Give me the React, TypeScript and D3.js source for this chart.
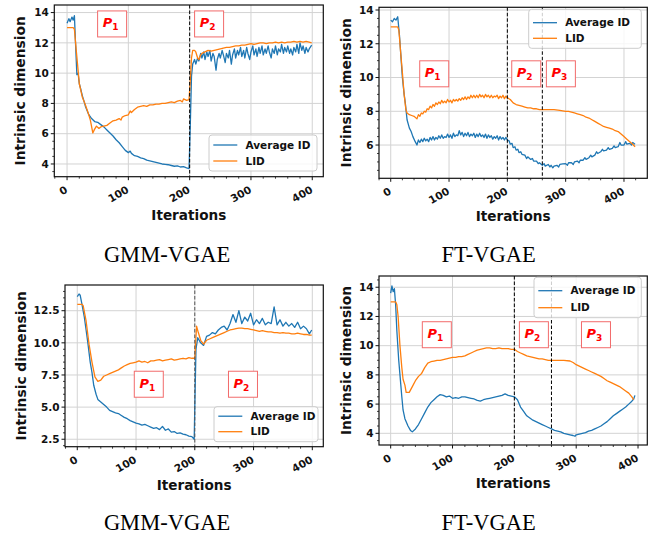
import React, { useEffect, useRef } from "react"
import * as d3 from "d3"

type Pt = [number, number]

// [iteration, value]
const gmmTopAvg: Pt[] = [
  [0, 13.3], [3, 13.6], [5, 13.4], [8, 13.7], [10, 13.5], [12, 13.8], [14, 11.8], [16, 9.9], [18, 10.0], [20, 9.3], [22, 9.0],
  [25, 8.5], [28, 8.1], [30, 7.8], [35, 7.3], [40, 7.0], [45, 6.8], [50, 6.75], [55, 6.6], [60, 6.45],
  [65, 6.25], [70, 6.05], [75, 5.85], [80, 5.6], [85, 5.4], [90, 5.15], [95, 4.9], [100, 4.75],
  [103, 4.85], [105, 4.7], [110, 4.55], [115, 4.5], [120, 4.4], [125, 4.35], [130, 4.25], [135, 4.2],
  [140, 4.15], [145, 4.1], [150, 4.05], [155, 4.0], [160, 3.98], [165, 3.95], [170, 3.9], [175, 3.85],
  [180, 3.88], [185, 3.8], [190, 3.82], [195, 3.75], [199, 3.7], [201, 6.5], [203, 9.8], [205, 10.6],
  [208, 10.9], [210, 10.6], [213, 11.0], [215, 10.8], [218, 11.3], [220, 11.0], [223, 11.4], [225, 10.9],
  [228, 11.4], [230, 11.1], [233, 11.5], [235, 10.8], [238, 11.3], [240, 11.1], [243, 10.2], [245, 10.9],
  [248, 11.3], [250, 11.0], [253, 11.5], [255, 11.2], [258, 10.7], [260, 11.3], [263, 11.0], [265, 11.5],
  [268, 10.6], [270, 11.2], [273, 11.6], [275, 11.0], [278, 11.5], [280, 11.2], [283, 11.7], [285, 11.1],
  [288, 11.5], [290, 11.0], [293, 11.7], [295, 11.3], [298, 10.9], [300, 11.4], [303, 11.8], [305, 11.2],
  [308, 11.6], [310, 11.1], [313, 11.7], [315, 11.3], [318, 11.8], [320, 11.2], [323, 11.6], [325, 11.3],
  [328, 11.8], [330, 11.4], [333, 11.0], [335, 11.6], [338, 11.3], [340, 11.8], [343, 11.2], [345, 11.6],
  [348, 11.4], [350, 11.9], [353, 11.3], [355, 11.7], [358, 11.4], [360, 11.8], [363, 11.3], [365, 11.6],
  [368, 11.2], [370, 11.7], [373, 11.4], [375, 11.9], [378, 11.3], [380, 12.0], [383, 11.5], [385, 11.8],
  [388, 11.3], [390, 11.7], [393, 11.4], [395, 11.6], [399, 11.85],
]
const gmmTopLid: Pt[] = [
  [0, 13.0], [10, 13.0], [12, 12.9], [15, 11.5], [18, 10.2], [20, 9.3], [25, 8.4], [30, 7.9], [35, 7.3],
  [38, 6.9], [42, 6.05], [45, 6.3], [48, 6.5], [52, 6.35], [55, 6.45], [60, 6.5], [65, 6.55], [70, 6.7],
  [75, 6.85], [80, 6.9], [85, 7.0], [88, 6.9], [90, 7.1], [95, 7.2], [100, 7.25], [103, 7.5], [105, 7.4],
  [110, 7.6], [115, 7.75], [120, 7.8], [125, 7.85], [130, 7.8], [135, 7.9], [140, 7.9], [145, 7.95],
  [150, 7.95], [155, 8.0], [160, 8.0], [165, 8.05], [170, 8.1], [175, 8.05], [180, 8.15], [185, 8.2],
  [188, 8.1], [190, 8.3], [195, 8.2], [199, 8.25], [201, 9.5], [203, 11.0], [205, 11.5], [208, 11.5],
  [210, 11.4], [213, 11.0], [215, 10.9], [218, 11.2], [220, 11.3], [225, 11.4], [230, 11.5], [235, 11.45],
  [240, 11.5], [245, 11.55], [250, 11.6], [255, 11.65], [260, 11.7], [265, 11.7], [270, 11.75], [275, 11.8],
  [280, 11.8], [285, 11.85], [290, 11.85], [295, 11.9], [300, 11.95], [305, 11.9], [310, 11.95], [315, 12.0],
  [320, 12.0], [325, 11.95], [330, 12.0], [335, 12.0], [340, 12.05], [345, 12.0], [350, 12.05], [355, 12.0],
  [360, 12.05], [365, 12.05], [370, 12.1], [375, 12.05], [380, 12.1], [385, 12.05], [390, 12.1], [395, 12.05],
  [399, 12.0],
]

const ftTopAvg: Pt[] = [
  [0, 13.4], [3, 13.3], [6, 13.5], [9, 13.4], [12, 13.6], [15, 12.5], [18, 11.0], [20, 10.0], [23, 9.0],
  [25, 8.5], [28, 7.5], [32, 7.0], [35, 6.8], [38, 6.5], [42, 6.2], [45, 6.0], [47.5, 6.3], [50, 6.15],
  [52.5, 6.35], [55, 6.2], [57.5, 6.4], [60, 6.25], [62.5, 6.35], [65, 6.2], [67.5, 6.45], [70, 6.3],
  [72.5, 6.5], [75, 6.3], [77.5, 6.45], [80, 6.35], [82.5, 6.55], [85, 6.4], [87.5, 6.6], [90, 6.4],
  [92.5, 6.5], [95, 6.45], [97.5, 6.65], [100, 6.45], [102.5, 6.6], [105, 6.4], [107.5, 6.7], [110, 6.5],
  [112.5, 6.6], [115, 6.55], [117.5, 6.85], [120, 6.6], [122.5, 6.75], [125, 6.5], [127.5, 6.7], [130, 6.55],
  [132.5, 6.75], [135, 6.5], [137.5, 6.65], [140, 6.55], [142.5, 6.7], [145, 6.45], [147.5, 6.65], [150, 6.5],
  [152.5, 6.7], [155, 6.5], [157.5, 6.6], [160, 6.45], [162.5, 6.65], [165, 6.4], [167.5, 6.6], [170, 6.45],
  [172.5, 6.55], [175, 6.35], [177.5, 6.5], [180, 6.4], [182.5, 6.55], [185, 6.3], [187.5, 6.5], [190, 6.35],
  [192.5, 6.45], [195, 6.3], [197.5, 6.45], [200, 6.3], [203, 6.25], [205, 6.05], [208, 6.1], [210, 5.85],
  [213, 5.9], [215, 5.7], [218, 5.75], [220, 5.55], [223, 5.6], [225, 5.45], [230, 5.4], [233, 5.2],
  [235, 5.3], [240, 5.15], [243, 5.2], [245, 5.05], [250, 5.05], [253, 4.9], [255, 4.95], [260, 4.8],
  [263, 4.9], [265, 4.75], [270, 4.85], [273, 4.7], [275, 4.8], [278, 4.65], [280, 4.75], [285, 4.8],
  [288, 4.7], [290, 4.85], [295, 4.88], [300, 4.9], [303, 4.8], [305, 4.95], [310, 4.95], [313, 4.85],
  [315, 5.0], [320, 5.05], [323, 4.95], [325, 5.1], [330, 5.1], [333, 5.25], [335, 5.15], [340, 5.25],
  [343, 5.4], [345, 5.3], [350, 5.4], [353, 5.6], [355, 5.5], [360, 5.6], [363, 5.75], [365, 5.65],
  [370, 5.7], [373, 5.85], [375, 5.75], [380, 5.8], [383, 5.95], [385, 5.85], [390, 5.9], [393, 6.15],
  [395, 6.0], [400, 6.0], [403, 6.2], [405, 6.05], [410, 6.1], [413, 6.0], [415, 6.15], [419, 6.05],
]
const ftTopLid: Pt[] = [
  [0, 13.0], [12, 13.0], [14, 12.8], [17, 11.5], [20, 10.3], [23, 9.0], [26, 8.1], [28, 7.9], [32, 7.8],
  [36, 7.75], [40, 7.7], [45, 7.55], [47.5, 7.8], [50, 7.7], [52.5, 7.9], [55, 7.85], [57.5, 8.0], [60, 7.95],
  [62.5, 8.15], [65, 8.1], [67.5, 8.3], [70, 8.2], [72.5, 8.4], [75, 8.3], [77.5, 8.5], [80, 8.4],
  [82.5, 8.55], [85, 8.45], [87.5, 8.65], [90, 8.5], [92.5, 8.6], [95, 8.5], [97.5, 8.7], [100, 8.55],
  [102.5, 8.65], [105, 8.5], [107.5, 8.7], [110, 8.6], [112.5, 8.7], [115, 8.6], [117.5, 8.75], [120, 8.65],
  [122.5, 8.8], [125, 8.7], [127.5, 8.85], [130, 8.7], [132.5, 8.85], [135, 8.75], [137.5, 8.95], [140, 8.8],
  [142.5, 8.95], [145, 8.8], [147.5, 8.95], [150, 8.8], [152.5, 9.0], [155, 8.85], [157.5, 8.95], [160, 8.8],
  [162.5, 9.0], [165, 8.85], [167.5, 8.95], [170, 8.8], [172.5, 8.95], [175, 8.8], [177.5, 8.9], [180, 8.85],
  [182.5, 8.95], [185, 8.75], [187.5, 8.9], [190, 8.8], [192.5, 8.95], [195, 8.75], [197.5, 8.9], [200, 8.8],
  [205, 8.7], [210, 8.5], [215, 8.4], [220, 8.35], [225, 8.3], [230, 8.25], [235, 8.2], [240, 8.2],
  [245, 8.15], [250, 8.15], [255, 8.1], [260, 8.1], [270, 8.1], [280, 8.1], [290, 8.05], [300, 8.0],
  [305, 8.0], [310, 7.95], [315, 7.9], [320, 7.85], [325, 7.8], [330, 7.75], [335, 7.65], [340, 7.6],
  [345, 7.5], [350, 7.4], [355, 7.3], [360, 7.2], [365, 7.1], [370, 7.05], [375, 7.0], [380, 6.95],
  [385, 6.85], [390, 6.8], [395, 6.65], [400, 6.5], [405, 6.35], [410, 6.2], [415, 6.05], [419, 5.9],
]

const gmmBotAvg: Pt[] = [
  [0, 13.6], [3, 13.8], [5, 13.7], [8, 13.0], [12, 12.0], [15, 11.0], [18, 10.0], [22, 8.5], [25, 7.7],
  [28, 6.7], [32, 6.0], [35, 5.6], [40, 5.4], [45, 5.2], [50, 5.0], [55, 4.75], [60, 4.65], [65, 4.55],
  [70, 4.5], [75, 4.35], [80, 4.2], [85, 4.1], [90, 3.95], [95, 3.85], [100, 3.75], [105, 3.7], [110, 3.6],
  [115, 3.65], [120, 3.55], [125, 3.45], [130, 3.35], [135, 3.4], [140, 3.25], [145, 3.5], [150, 3.2],
  [155, 3.3], [160, 3.05], [165, 3.1], [170, 2.95], [175, 3.0], [180, 2.9], [185, 2.85], [190, 2.75],
  [195, 2.7], [199, 2.5], [200, 5.0], [202, 9.5], [205, 10.4], [210, 10.0], [215, 9.8], [220, 10.5],
  [225, 10.6], [230, 10.8], [235, 10.7], [240, 11.0], [245, 11.2], [250, 11.3], [255, 11.0], [260, 11.5],
  [265, 12.2], [270, 11.6], [275, 12.5], [280, 11.5], [285, 12.0], [290, 11.7], [295, 12.3], [300, 11.4],
  [305, 11.8], [310, 11.5], [315, 11.9], [320, 11.4], [325, 11.6], [330, 11.5], [335, 12.8], [340, 11.4],
  [345, 11.8], [350, 11.3], [355, 11.6], [360, 11.3], [365, 11.5], [370, 11.2], [375, 11.6], [380, 11.1],
  [385, 11.3], [390, 11.1], [395, 10.7], [399, 11.0],
]
const gmmBotLid: Pt[] = [
  [0, 13.0], [8, 13.0], [10, 12.9], [15, 11.7], [20, 9.9], [25, 8.5], [30, 7.35], [35, 7.0], [40, 7.1],
  [45, 7.4], [50, 7.5], [55, 7.6], [60, 7.7], [65, 7.8], [70, 7.9], [75, 8.05], [80, 8.2], [85, 8.3],
  [90, 8.4], [95, 8.45], [100, 8.5], [105, 8.6], [110, 8.5], [115, 8.55], [120, 8.45], [125, 8.6],
  [130, 8.6], [135, 8.65], [140, 8.7], [145, 8.6], [150, 8.65], [155, 8.7], [160, 8.75], [165, 8.65],
  [170, 8.7], [175, 8.75], [180, 8.8], [185, 8.75], [190, 8.85], [195, 8.8], [200, 8.8], [203, 11.3],
  [206, 10.8], [210, 10.2], [215, 9.9], [220, 10.2], [225, 10.3], [230, 10.4], [235, 10.5], [240, 10.6],
  [245, 10.7], [250, 10.8], [255, 10.9], [260, 11.0], [265, 11.05], [270, 11.1], [275, 11.15], [280, 11.15],
  [285, 11.1], [290, 11.1], [295, 11.05], [300, 11.0], [305, 10.95], [310, 10.9], [315, 10.95], [320, 10.9],
  [325, 10.85], [330, 10.85], [335, 10.8], [340, 10.8], [345, 10.75], [350, 10.8], [355, 10.75], [360, 10.75],
  [365, 10.7], [370, 10.7], [375, 10.75], [380, 10.7], [385, 10.65], [390, 10.65], [395, 10.6], [399, 10.6],
]

const ftBotAvg: Pt[] = [
  [0, 13.6], [2, 14.1], [4, 13.7], [6, 13.9], [8, 12.8], [10, 11.0], [13, 9.0], [15, 8.0], [18, 6.5],
  [20, 5.6], [23, 5.0], [28, 4.5], [32, 4.2], [35, 4.1], [40, 4.3], [45, 4.6], [50, 5.0], [55, 5.4],
  [60, 5.8], [65, 6.1], [70, 6.3], [75, 6.5], [80, 6.65], [85, 6.6], [90, 6.5], [95, 6.55], [100, 6.4],
  [105, 6.45], [110, 6.4], [115, 6.5], [120, 6.5], [125, 6.45], [130, 6.4], [135, 6.35], [140, 6.25],
  [145, 6.2], [150, 6.3], [155, 6.35], [160, 6.4], [165, 6.45], [170, 6.5], [175, 6.55], [180, 6.6],
  [185, 6.7], [190, 6.6], [195, 6.55], [200, 6.5], [205, 6.3], [210, 5.8], [215, 5.5], [220, 5.2],
  [225, 5.05], [230, 4.9], [235, 4.8], [240, 4.7], [245, 4.6], [250, 4.5], [255, 4.4], [260, 4.3],
  [265, 4.2], [270, 4.15], [275, 4.1], [280, 4.0], [285, 3.95], [290, 3.9], [295, 3.85], [298, 3.8],
  [300, 3.9], [305, 3.95], [310, 4.0], [315, 4.05], [320, 4.15], [325, 4.2], [330, 4.3], [335, 4.4],
  [340, 4.5], [345, 4.65], [350, 4.8], [355, 5.0], [360, 5.2], [365, 5.35], [370, 5.5], [375, 5.65],
  [380, 5.8], [385, 6.0], [390, 6.2], [393, 6.35], [395, 6.6],
]
const ftBotLid: Pt[] = [
  [0, 13.0], [8, 13.0], [10, 12.8], [12, 12.0], [15, 10.0], [18, 8.5], [20, 7.7], [23, 7.3], [25, 6.8],
  [30, 6.8], [35, 7.2], [40, 7.6], [45, 7.9], [50, 8.1], [55, 8.5], [60, 8.8], [65, 8.9], [70, 8.95],
  [75, 9.0], [80, 9.0], [85, 9.05], [90, 9.1], [95, 9.15], [100, 9.2], [105, 9.2], [110, 9.25], [115, 9.25],
  [120, 9.3], [125, 9.4], [130, 9.5], [135, 9.6], [140, 9.7], [145, 9.75], [150, 9.8], [155, 9.85],
  [160, 9.85], [165, 9.8], [170, 9.8], [175, 9.85], [180, 9.8], [185, 9.8], [190, 9.8], [195, 9.75],
  [200, 9.75], [205, 9.6], [210, 9.5], [215, 9.4], [220, 9.3], [225, 9.25], [230, 9.2], [235, 9.15],
  [240, 9.1], [245, 9.1], [250, 9.05], [255, 9.0], [260, 9.0], [270, 9.0], [280, 9.0], [290, 8.95],
  [295, 8.85], [300, 8.7], [305, 8.6], [310, 8.5], [315, 8.4], [320, 8.3], [325, 8.2], [330, 8.1],
  [335, 8.0], [340, 7.9], [345, 7.75], [350, 7.6], [355, 7.5], [360, 7.4], [365, 7.3], [370, 7.2],
  [375, 7.05], [380, 6.9], [385, 6.75], [390, 6.5], [393, 6.3],
]

const seriesNames = ["Average ID", "LID"]
const xTickValues = [0, 100, 200, 300, 400]
const captions = ["GMM-VGAE", "FT-VGAE", "GMM-VGAE", "FT-VGAE"]

const BLUE = "#1f77b4"
const ORANGE = "#ff7f0e"
const FONT = "DejaVu Sans, sans-serif"

const panels = [
  {
    box: { l: 54.3, r: 323.3, t: 5, b: 176.7 }, xDom: [-20.8, 418], yDom: [3.16, 14.5],
    yTicks: [4, 6, 8, 10, 12, 14], yFmt: d3.format("d"), avg: gmmTopAvg, lid: gmmTopLid,
    phases: [200], tags: [[73.5, 13.25, "1"], [231.7, 13.25, "2"]],
    legend: { x: 209, y: 135, w: 108, h: 36, r1: 10, r2: 26 }, yLab: 29.5,
    cap: { x: 167, y: 261.7 }, dash: "#000",
  },
  {
    box: { l: 379, r: 647.3, t: 7.3, b: 178.3 }, xDom: [-20.1, 440], yDom: [4.03, 14.16],
    yTicks: [6, 8, 10, 12, 14], yFmt: d3.format("d"), avg: ftTopAvg, lid: ftTopLid,
    phases: [200, 260], tags: [[74.6, 10.22, "1"], [232.4, 10.22, "2"], [291.8, 10.22, "3"]],
    legend: { x: 528.7, y: 9.3, w: 112.6, h: 39, r1: 13.4, r2: 29 }, yLab: 28.3,
    cap: { x: 488.6, y: 261.7 }, dash: "#000",
  },
  {
    box: { l: 65, r: 323.3, t: 285, b: 446.7 }, xDom: [-20.9, 418.7], yDom: [1.92, 14.5],
    yTicks: [2.5, 5, 7.5, 10, 12.5], yFmt: d3.format(".1f"), avg: gmmBotAvg, lid: gmmBotLid,
    phases: [200], tags: [[121.7, 6.78, "1"], [282, 6.78, "2"]],
    legend: { x: 214, y: 406.7, w: 104, h: 35, r1: 9.5, r2: 25 }, yLab: 39,
    cap: { x: 167, y: 529.5 }, dash: "#555",
  },
  {
    box: { l: 379, r: 647.3, t: 276, b: 445 }, xDom: [-18.9, 415], yDom: [3.2, 14.77],
    yTicks: [4, 6, 8, 10, 12, 14], yFmt: d3.format("d"), avg: ftBotAvg, lid: ftBotLid,
    phases: [200, 260], tags: [[74.6, 10.75, "1"], [231.6, 10.75, "2"], [332, 10.75, "3"]],
    legend: { x: 534, y: 277.3, w: 107.3, h: 40.4, r1: 13.4, r2: 30.4 }, yLab: 28.3,
    cap: { x: 488.6, y: 529.5 }, dash: "#000",
  },
]

const App = () => {
  const ref = useRef<SVGSVGElement>(null)

  useEffect(() => {
    const svg = d3.select(ref.current)
    svg.selectAll("*").remove()

    panels.forEach((p, idx) => {
      const { l, r, t, b } = p.box
      const x = d3.scaleLinear().domain(p.xDom).range([l, r])
      const y = d3.scaleLinear().domain(p.yDom).range([b, t])
      const g = svg.append("g")

      const clipId = `clip-${idx}`
      svg.append("clipPath").attr("id", clipId)
        .append("rect").attr("x", l).attr("y", t).attr("width", r - l).attr("height", b - t)

      // grid
      g.selectAll(".gx").data(xTickValues).join("line").attr("class", "gx")
        .attr("x1", (d) => x(d)).attr("x2", (d) => x(d)).attr("y1", t).attr("y2", b)
        .attr("stroke", "#d3d3d3").attr("stroke-width", 1)
      g.selectAll(".gy").data(p.yTicks).join("line").attr("class", "gy")
        .attr("x1", l).attr("x2", r).attr("y1", (d) => y(d)).attr("y2", (d) => y(d))
        .attr("stroke", "#d3d3d3").attr("stroke-width", 1)

      const line = d3.line<Pt>().x((d) => x(d[0])).y((d) => y(d[1]))
      const plot = g.append("g").attr("clip-path", `url(#${clipId})`)
      plot.append("path").attr("d", line(p.avg)).attr("fill", "none")
        .attr("stroke", BLUE).attr("stroke-width", 1.3).attr("stroke-linejoin", "round")
      plot.append("path").attr("d", line(p.lid)).attr("fill", "none")
        .attr("stroke", ORANGE).attr("stroke-width", 1.3).attr("stroke-linejoin", "round")

      // phase boundaries
      p.phases.forEach((ph) => {
        g.append("line").attr("x1", x(ph)).attr("x2", x(ph)).attr("y1", t).attr("y2", b)
          .attr("stroke", p.dash).attr("stroke-width", 1).attr("stroke-dasharray", "3.5,2")
      })

      // P tags
      p.tags.forEach(([tx, ty, sub]) => {
        const cx = x(tx as number)
        const cy = y(ty as number)
        g.append("rect").attr("x", cx - 14.5).attr("y", cy - 13).attr("width", 29).attr("height", 26)
          .attr("fill", "#fff").attr("stroke", "#f26b6b").attr("stroke-width", 1)
        const txt = g.append("text").attr("x", cx - 1.5).attr("y", cy + 3.5)
          .attr("text-anchor", "middle").attr("fill", "#ff0000")
          .attr("font-family", FONT).attr("font-weight", "bold")
        txt.append("tspan").attr("font-style", "italic").attr("font-size", 13).text("P")
        txt.append("tspan").attr("font-size", 9).attr("dy", 3).text(sub as string)
      })

      // spines
      g.append("rect").attr("x", l).attr("y", t).attr("width", r - l).attr("height", b - t)
        .attr("fill", "none").attr("stroke", "#111").attr("stroke-width", 1.2)

      // ticks
      const xMinor = d3.range(Math.ceil(p.xDom[0] / 20) * 20, p.xDom[1], 20).filter((v) => v % 100 !== 0)
      const yMinor = d3.range(Math.ceil(p.yDom[0] / 0.5) * 0.5, p.yDom[1], 0.5)
        .filter((v) => !p.yTicks.some((k) => Math.abs(k - v) < 1e-6))
      g.selectAll(".xmin").data(xMinor).join("line").attr("class", "xmin")
        .attr("x1", (d) => x(d)).attr("x2", (d) => x(d)).attr("y1", b).attr("y2", b + 2)
        .attr("stroke", "#111").attr("stroke-width", 0.8)
      g.selectAll(".ymin").data(yMinor).join("line").attr("class", "ymin")
        .attr("x1", l - 2).attr("x2", l).attr("y1", (d) => y(d)).attr("y2", (d) => y(d))
        .attr("stroke", "#111").attr("stroke-width", 0.8)
      g.selectAll(".xmaj").data(xTickValues).join("line").attr("class", "xmaj")
        .attr("x1", (d) => x(d)).attr("x2", (d) => x(d)).attr("y1", b).attr("y2", b + 3.5)
        .attr("stroke", "#111").attr("stroke-width", 1)
      g.selectAll(".ymaj").data(p.yTicks).join("line").attr("class", "ymaj")
        .attr("x1", l - 3.5).attr("x2", l).attr("y1", (d) => y(d)).attr("y2", (d) => y(d))
        .attr("stroke", "#111").attr("stroke-width", 1)

      g.selectAll(".ylab").data(p.yTicks).join("text").attr("class", "ylab")
        .attr("x", l - 5.5).attr("y", (d) => y(d)).attr("dy", "0.36em")
        .attr("text-anchor", "end").attr("font-family", FONT).attr("font-weight", "bold")
        .attr("font-size", 10.5).attr("fill", "#111").text((d) => p.yFmt(d))
      g.selectAll(".xlab").data(xTickValues).join("text").attr("class", "xlab")
        .attr("transform", (d) => `translate(${x(d) - 2.5},${b + 8.5}) rotate(-30)`)
        .attr("text-anchor", "end").attr("dy", "0.72em").attr("font-family", FONT)
        .attr("font-weight", "bold").attr("font-size", 10.5).attr("fill", "#111").text((d) => d)

      // axis titles
      g.append("text").attr("x", (l + r) / 2).attr("y", b + 43)
        .attr("text-anchor", "middle").attr("font-family", FONT).attr("font-weight", "bold")
        .attr("font-size", 13.6).attr("fill", "#111").text("Iterations")
      g.append("text").attr("transform", `translate(${l - p.yLab},${(t + b) / 2}) rotate(-90)`)
        .attr("text-anchor", "middle").attr("font-family", FONT).attr("font-weight", "bold")
        .attr("font-size", 13.8).attr("fill", "#111").text("Intrinsic dimension")

      // legend
      const lg = p.legend
      g.append("rect").attr("x", lg.x).attr("y", lg.y).attr("width", lg.w).attr("height", lg.h)
        .attr("rx", 3).attr("fill", "#fff").attr("fill-opacity", 0.8)
        .attr("stroke", "#cccccc").attr("stroke-width", 1)
      ;[BLUE, ORANGE].forEach((c, k) => {
        const ry = lg.y + (k === 0 ? lg.r1 : lg.r2)
        g.append("line").attr("x1", lg.x + 4.3).attr("x2", lg.x + 28.3).attr("y1", ry).attr("y2", ry)
          .attr("stroke", c).attr("stroke-width", 1.3)
        g.append("text").attr("x", lg.x + 36.5).attr("y", ry).attr("dy", "0.36em")
          .attr("font-family", FONT).attr("font-weight", "bold").attr("font-size", 10.5)
          .attr("fill", "#111").text(seriesNames[k])
      })

      // caption
      svg.append("text").attr("x", p.cap.x).attr("y", p.cap.y).attr("text-anchor", "middle")
        .attr("font-family", "Liberation Serif, Times New Roman, serif").attr("font-size", 22.5)
        .attr("fill", "#000").text(captions[idx])
    })
  })

  return (
    <svg ref={ref} width={656} height={533}
      style={{ position: "absolute", left: 0, top: 0, background: "#fff" }} />
  )
}

export default App
